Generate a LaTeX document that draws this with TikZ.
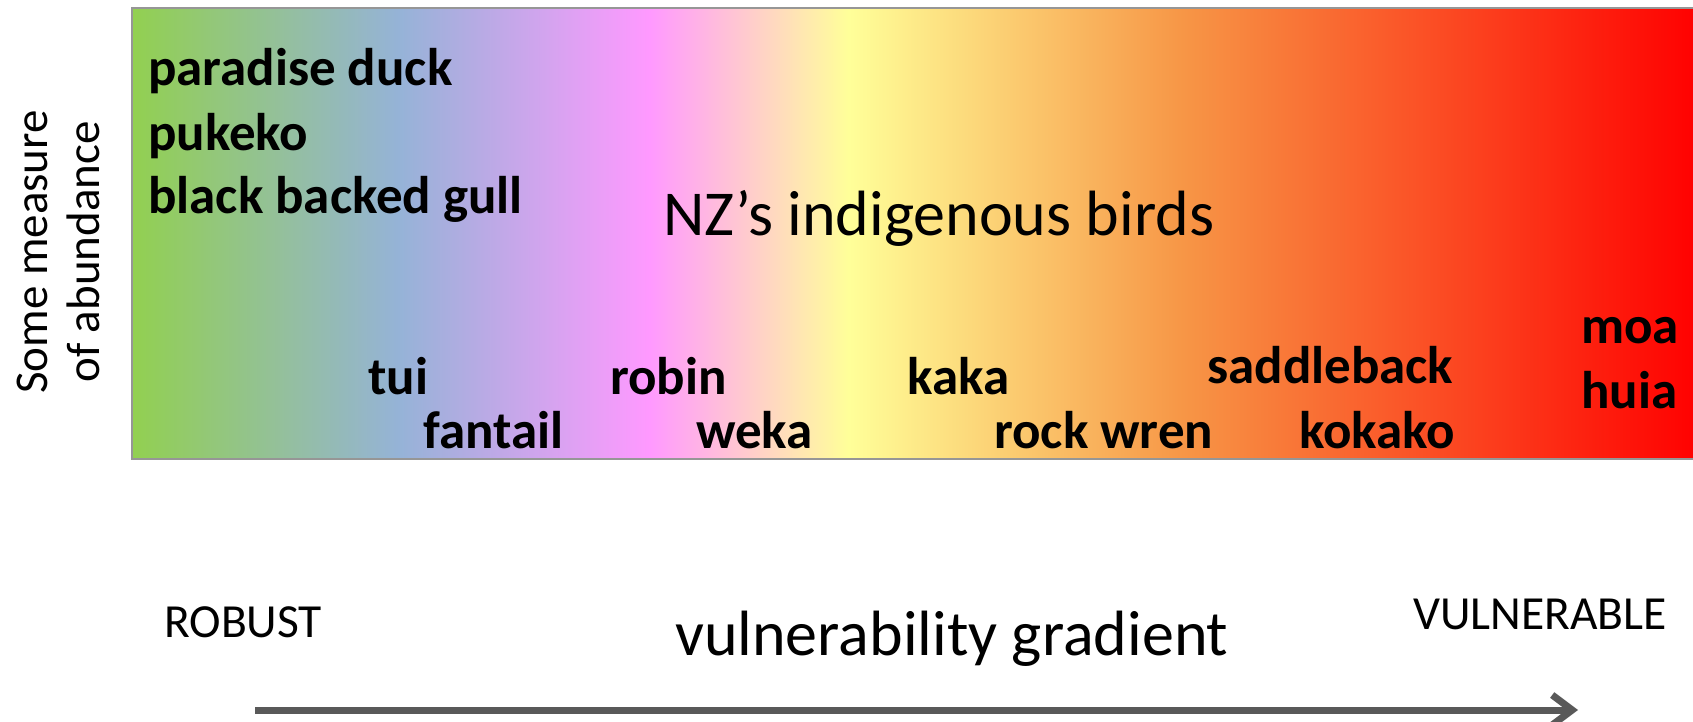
\documentclass[tikz,border=0pt]{standalone}
\usepackage{fontspec}
\setmainfont{Carlito}
\usetikzlibrary{arrows.meta}

\definecolor{cgreen}{RGB}{146,208,80}
\definecolor{cblue}{RGB}{149,179,215}
\definecolor{cpink}{RGB}{255,153,255}
\definecolor{cyellow}{RGB}{255,255,153}
\definecolor{corange}{RGB}{247,150,70}
\definecolor{cred}{RGB}{255,0,0}
\definecolor{arrowgray}{RGB}{89,89,89}
\definecolor{framegray}{RGB}{150,150,150}

% the visible part of the shading is 25bp..75bp
\pgfdeclarehorizontalshading{vulnerability}{100bp}{%
  color(0bp)=(cgreen); color(25bp)=(cgreen);
  color(33.5bp)=(cblue); color(41.5bp)=(cpink);
  color(47.85bp)=(cyellow); color(58.5bp)=(corange);
  color(75bp)=(cred); color(100bp)=(cred)}

\tikzset{
  bird/.style={anchor=base west, inner sep=0pt, font=\fontsize{53}{58}\selectfont\bfseries},
  title/.style={anchor=base west, inner sep=0pt, font=\fontsize{64}{70}\selectfont},
  axislabel/.style={anchor=base west, inner sep=0pt, font=\fontsize{47.5}{50}\selectfont},
  gradarrow/.style={draw=arrowgray, line width=7pt,
    -{Straight Barb[length=20pt, width=30pt, line width=7pt]}}
}

\begin{document}
\begin{tikzpicture}[x=1pt, y=-1pt]
  \useasboundingbox (0,0) rectangle (1693,722);

  % shaded band of the birds
  \path[shading=vulnerability] (132,8) rectangle (1700,459);
  \draw[framegray, line width=1.5pt] (1700,8) -- (132,8) -- (132,459) -- (1700,459);

  % vertical axis label
  \node[rotate=90, align=center, inner sep=0pt,
        font=\fontsize{47}{52}\selectfont] (ylab) at (58,252)
        {Some measure\\of abundance};

  % title inside the band
  \node[title] (title) at (663,235) {NZ’s indigenous birds};

  % abundant, robust birds
  \node[bird] (duck)   at (148,86)  {paradise duck};
  \node[bird] (pukeko) at (148,151) {pukeko};
  \node[bird] (gull)   at (148,213) {black backed gull};

  % less abundant birds along the gradient
  \node[bird] (tui)     at (368,394) {tui};
  \node[bird] (fantail) at (423,448) {fantail};
  \node[bird] (robin)   at (610,394) {robin};
  \node[bird] (weka)    at (696,448) {weka};
  \node[bird] (kaka)    at (907,394) {kaka};
  \node[bird] (wren)    at (994,448) {rock wren};
  \node[bird] (saddle)  at (1207,383) {saddleback};
  \node[bird] (kokako)  at (1299,448) {kokako};
  \node[bird] (moa)     at (1581,343) {moa};
  \node[bird] (huia)    at (1581,408) {huia};

  % horizontal axis
  \node[axislabel] (robust) at (164,637) {ROBUST};
  \node[title] (gradlabel) at (675,655) {vulnerability gradient};
  \node[axislabel] (vuln) at (1413,629) {VULNERABLE};

  \coordinate (arrstart) at (255,710);
  \coordinate (arrend) at (1578,710);
  \draw[gradarrow] (arrstart) -- (arrend);
\end{tikzpicture}
\end{document}
